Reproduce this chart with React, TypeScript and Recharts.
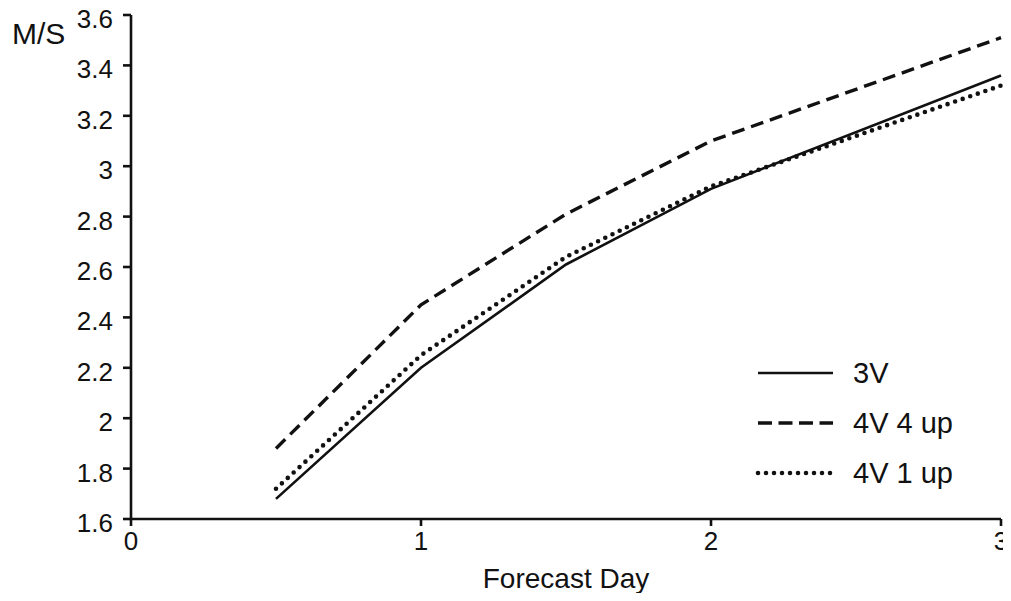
import React from "react"
import { LineChart, Line, XAxis, YAxis } from "recharts"

const days = [0.5, 1, 1.5, 2, 3]
const v3 = [1.68, 2.2, 2.61, 2.91, 3.36]
const v4up4 = [1.88, 2.45, 2.81, 3.1, 3.51]
const v4up1 = [1.72, 2.25, 2.64, 2.92, 3.32]
const yTicks = [1.6, 1.8, 2, 2.2, 2.4, 2.6, 2.8, 3, 3.2, 3.4, 3.6]
const xTicks = [0, 1, 2, 3]

const data = days.map((d, i) => ({ day: d, a: v3[i], b: v4up4[i], c: v4up1[i] }))

const font = "'Liberation Sans', Arial, sans-serif"
const ink = "#111"

const series = [
  { key: "a", name: "3V", dash: undefined, legendDash: undefined, width: 2.6, cap: "butt" },
  { key: "b", name: "4V 4 up", dash: "13 7", legendDash: "14 6.5", width: 3.4, cap: "butt" },
  { key: "c", name: "4V 1 up", dash: "0 8", legendDash: "0 8", width: 4.6, cap: "round" },
]

function YTick(props: any) {
  const { x, y, payload } = props
  return (
    <text x={x - 8} y={y} dy={13} textAnchor="end" fontSize={26} fontFamily={font} fill={ink}>
      {payload.value}
    </text>
  )
}

function XTick(props: any) {
  const { x, y, payload } = props
  return (
    <text x={x} y={y} dy={22} textAnchor="middle" fontSize={26} fontFamily={font} fill={ink}>
      {payload.value}
    </text>
  )
}

function LegendBox() {
  return (
    <div style={{ position: "absolute", left: 754, top: 348, fontFamily: font, fontSize: 29, color: ink }}>
      {series.map((s) => (
        <div key={s.key} style={{ display: "flex", alignItems: "center", height: 50 }}>
          <svg width={82} height={10}>
            <line x1={4} y1={5} x2={79} y2={5} stroke={ink} strokeWidth={s.width}
              strokeDasharray={s.legendDash} strokeLinecap={s.cap as any} />
          </svg>
          <span style={{ marginLeft: 17 }}>{s.name}</span>
        </div>
      ))}
    </div>
  )
}

export default function App() {
  return (
    <div style={{ position: "relative", width: 1011, height: 601, margin: -8, background: "#fff" }}>
      <div style={{ position: "absolute", left: 12, top: 17, fontFamily: font, fontSize: 30, color: ink }}>M/S</div>
      <LineChart width={1011} height={601} data={data} margin={{ top: 15, right: 10, left: 0, bottom: 6 }}
        style={{ overflow: "visible" }}>
        <XAxis dataKey="day" type="number" domain={[0, 3]} ticks={xTicks} xAxisId="x"
          stroke={ink} strokeWidth={2.6} tickSize={7} tick={<XTick />} height={76}
          label={{ value: "Forecast Day", position: "insideBottom", offset: 7, style: { fontSize: 28, fontFamily: font, fill: ink } }} />
        <XAxis xAxisId="top" orientation="top" type="number" domain={[0, 3]} height={0}
          tick={false} tickLine={false} stroke={ink} strokeWidth={2.6} />
        <YAxis type="number" domain={[1.6, 3.6]} ticks={yTicks} yAxisId="y" width={131}
          stroke={ink} strokeWidth={2.6} tickSize={8} tick={<YTick />} interval={0} />
        <YAxis yAxisId="right" orientation="right" type="number" domain={[1.6, 3.6]} width={0}
          tick={false} tickLine={false} stroke={ink} strokeWidth={2.6} />
        {series.map((s) => (
          <Line key={s.key} xAxisId="x" yAxisId="y" dataKey={s.key} name={s.name} type="linear"
            stroke={ink} strokeWidth={s.width} strokeDasharray={s.dash} strokeLinecap={s.cap as any}
            dot={false} activeDot={false} isAnimationActive={false} />
        ))}
      </LineChart>
      <LegendBox />
    </div>
  )
}
